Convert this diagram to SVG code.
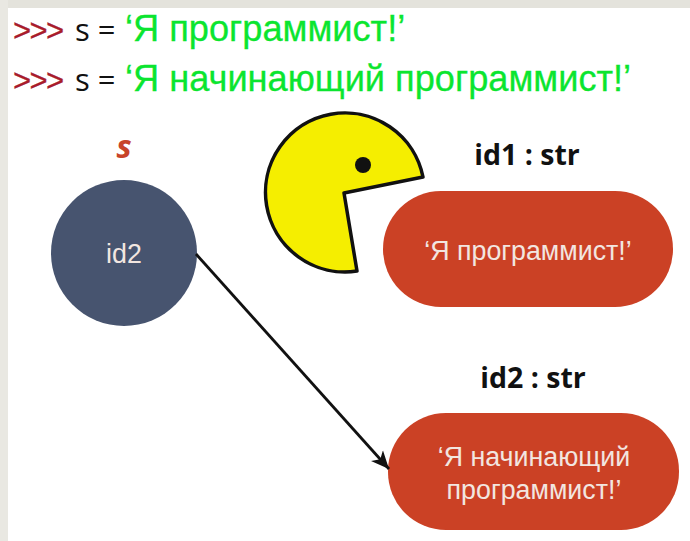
<svg xmlns="http://www.w3.org/2000/svg" width="690" height="541" viewBox="0 0 690 541">
<style>
.p{font-family:"Liberation Sans",Arial,sans-serif;font-size:31px;fill:#a81c2c;stroke:#a81c2c;stroke-width:.3}
.c{font-family:"Open Sans","Noto Sans",sans-serif;font-size:31px;fill:#111}
.g{font-family:"Liberation Sans",Arial,sans-serif;font-size:36.2px;fill:#0be52f;stroke:#0be52f;stroke-width:.3}
.h{font-family:"Open Sans","Noto Sans",sans-serif;font-size:28.5px;font-weight:700;fill:#111;text-anchor:middle}
.w{font-family:"Liberation Sans",Arial,sans-serif;font-size:26.8px;fill:#f2e6e0;text-anchor:middle}
.r{fill:#cb4125}
</style>
<defs>
<marker id="a" markerUnits="userSpaceOnUse" markerWidth="22" markerHeight="22" refX="18" refY="10" orient="auto">
<path d="M0 2L18 10L0 18L5 10Z" fill="#111"/>
</marker>
</defs>
<rect width="690" height="541" fill="#fff"/>
<rect width="690" height="8" fill="#e4e3dc"/>
<rect width="8" height="541" fill="#e9e8e2"/>
<g id="code">
<text x="13" y="41" class="p" textLength="51">&gt;&gt;&gt;</text>
<text x="75" y="41" class="c">s =</text>
<text x="125" y="41" class="g">‘Я программист!’</text>
<text x="13" y="91" class="p" textLength="51">&gt;&gt;&gt;</text>
<text x="75" y="91" class="c">s =</text>
<text x="125" y="91" class="g">‘Я начинающий программист!’</text>
</g>
<g id="var-s">
<text x="124" y="158" font-family="Open Sans,Noto Sans,sans-serif" font-size="32" font-weight="700" font-style="italic" fill="#c8442a" text-anchor="middle">s</text>
<circle cx="124" cy="253" r="73" fill="#47546f"/>
<text x="124" y="263" class="w">id2</text>
</g>
<g id="pacman">
<path d="M423 177A79.500 79.500 0 1 0 357 271L344 193Z" fill="#f5ee00" stroke="#111" stroke-width="3.500" stroke-linejoin="round"/>
<circle cx="363" cy="165" r="8" fill="#111"/>
</g>
<g id="id1">
<text x="527" y="165" class="h">id1 : str</text>
<rect class="r" x="383" y="191" width="290" height="116" rx="58"/>
<text x="528" y="260" class="w">‘Я программист!’</text>
</g>
<g id="id2">
<text x="533" y="388" class="h">id2 : str</text>
<rect class="r" x="388" y="413" width="291" height="117" rx="58"/>
<text x="534" y="466" class="w">‘Я начинающий</text>
<text x="534" y="499" class="w">программист!’</text>
</g>
<g id="connectors">
<line x1="196" y1="254" x2="389" y2="469" stroke="#111" stroke-width="2.800" marker-end="url(#a)"/>
</g>
</svg>
